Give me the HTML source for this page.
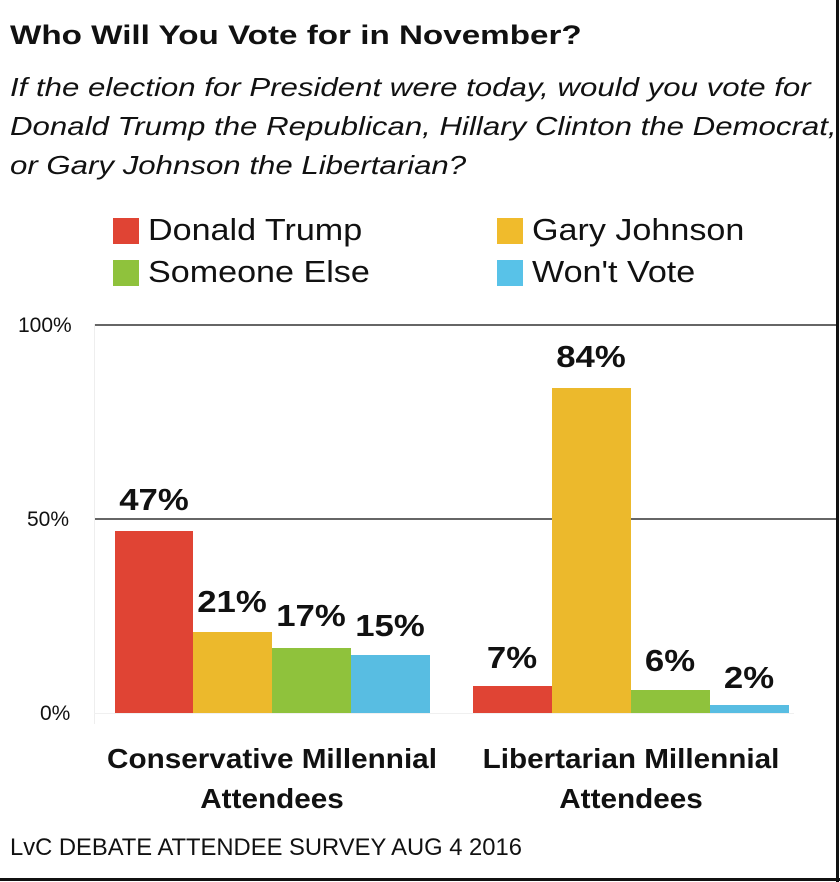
<!DOCTYPE html>
<html><head><style>
body{margin:0;width:840px;height:882px;background:#fff;position:relative;overflow:hidden;font-family:"Liberation Sans",sans-serif;color:#111}
.a{position:absolute;white-space:nowrap;transform-origin:0 0}
.bar{position:absolute}
.lab{position:absolute;font-weight:bold;font-size:31px;text-align:center;width:100px;transform:scaleX(1.12)}
.sq{position:absolute;width:26px;height:26px}
.lg{font-size:31px;transform:scaleX(1.1)}
</style></head><body>
<div class="a" style="left:10px;top:20px;font-size:27px;font-weight:bold;transform:scaleX(1.23)">Who Will You Vote for in November?</div>
<div class="a" style="left:10px;top:68px;font-size:26px;font-style:italic;line-height:39px;transform:scaleX(1.2)">If the election for President were today, would you vote for<br>Donald Trump the Republican, Hillary Clinton the Democrat,<br>or Gary Johnson the Libertarian?</div>
<div class="sq" style="left:113px;top:218px;background:#e04434"></div>
<div class="a lg" style="left:148px;top:212px">Donald Trump</div>
<div class="sq" style="left:497px;top:218px;background:#f0bb2c"></div>
<div class="a lg" style="left:532px;top:212px">Gary Johnson</div>
<div class="sq" style="left:113px;top:260px;background:#8fc23c"></div>
<div class="a lg" style="left:148px;top:254px">Someone Else</div>
<div class="sq" style="left:497px;top:260px;background:#58c2e8"></div>
<div class="a lg" style="left:532px;top:254px">Won't Vote</div>
<div class="a" style="left:18px;top:314px;font-size:21px">100%</div>
<div class="a" style="left:27px;top:508px;font-size:21px">50%</div>
<div class="a" style="left:40px;top:702px;font-size:21px">0%</div>
<div class="bar" style="left:94px;top:324px;width:743px;height:2px;background:#666"></div>
<div class="bar" style="left:94px;top:518px;width:743px;height:2px;background:#666"></div>
<div class="bar" style="left:94px;top:324px;width:1px;height:400px;background:#eee"></div>
<div class="bar" style="left:94px;top:713px;width:700px;height:1px;background:#f0f0f0"></div>
<div class="bar" style="left:115px;top:531px;width:78px;height:182px;background:#e04434"></div>
<div class="bar" style="left:193px;top:632px;width:79px;height:81px;background:#ecb92c"></div>
<div class="bar" style="left:272px;top:648px;width:79px;height:65px;background:#8fc23c"></div>
<div class="bar" style="left:351px;top:655px;width:79px;height:58px;background:#58bde2"></div>
<div class="bar" style="left:473px;top:686px;width:79px;height:27px;background:#e04434"></div>
<div class="bar" style="left:552px;top:388px;width:79px;height:325px;background:#ecb92c"></div>
<div class="bar" style="left:631px;top:690px;width:79px;height:23px;background:#8fc23c"></div>
<div class="bar" style="left:710px;top:705px;width:79px;height:8px;background:#58bde2"></div>
<div class="lab" style="left:104px;top:482px">47%</div>
<div class="lab" style="left:182px;top:584px">21%</div>
<div class="lab" style="left:261px;top:598px">17%</div>
<div class="lab" style="left:340px;top:608px">15%</div>
<div class="lab" style="left:462px;top:640px">7%</div>
<div class="lab" style="left:541px;top:339px">84%</div>
<div class="lab" style="left:620px;top:643px">6%</div>
<div class="lab" style="left:699px;top:660px">2%</div>
<div class="a" style="left:82px;top:739px;width:380px;text-align:center;font-size:28px;font-weight:bold;line-height:40px;transform:scaleX(1.06);transform-origin:50% 0">Conservative Millennial<br>Attendees</div>
<div class="a" style="left:441px;top:739px;width:380px;text-align:center;font-size:28px;font-weight:bold;line-height:40px;transform:scaleX(1.06);transform-origin:50% 0">Libertarian Millennial<br>Attendees</div>
<div class="a" style="left:10px;top:834px;font-size:24px;transform:scaleX(0.99)">LvC DEBATE ATTENDEE SURVEY AUG 4 2016</div>
<div class="bar" style="left:0;top:878px;width:840px;height:3px;background:#111"></div>
<div class="bar" style="left:836px;top:0;width:3px;height:882px;background:#111"></div>
</body></html>
